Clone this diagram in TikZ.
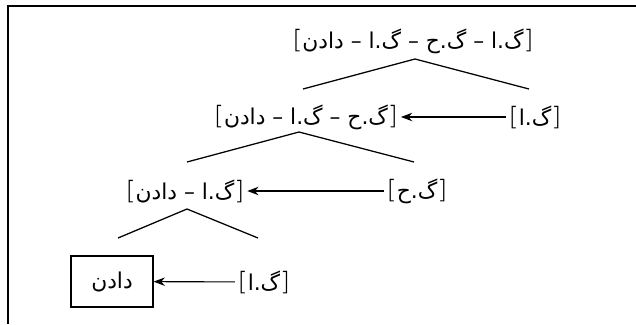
\documentclass[tikz,border=0pt]{standalone}
\usepackage{fontspec}
\usetikzlibrary{arrows.meta}
\TeXXeTstate=1
\newfontfamily\arabicfont[Script=Arabic]{DejaVu Sans}
\newfontfamily\bracketfont{DejaVu Sans ExtraLight}
\newcommand{\phr}[1]{{\bracketfont\fontsize{18}{18}\selectfont[}\beginR#1\endR{\bracketfont\fontsize{18}{18}\selectfont]}}
\tikzset{
  lbl/.style={font=\arabicfont\fontsize{15.5}{17}\selectfont, inner sep=2pt},
  headbox/.style={lbl, draw, line width=0.9pt, minimum width=2.05cm, minimum height=1.275cm},
  branch/.style={line width=0.9pt},
  move/.style={-{Stealth[length=8pt,width=6pt]}, line width=0.8pt}
}
\begin{document}
\begin{tikzpicture}[x=0.025cm, y=-0.025cm]
    \useasboundingbox (0,0) rectangle (636,324);

    % Frame (top and left only)
    \coordinate (F1) at (636,6);
    \coordinate (F2) at (8,6);
    \coordinate (F3) at (8,324);
    \draw[line width=1pt] (F1) -- (F2) -- (F3);

    % Labels of the four levels
    \node[lbl] (top) at (413,41) {\phr{گ.ا – گ.ح – گ.ا – دادن}};
    \node[lbl] (lvltwo) at (306,117) {\phr{گ.ح – گ.ا – دادن}};
    \node[lbl] (lvlthree) at (185,191) {\phr{گ.ا – دادن}};
    \node[headbox] (verb) at (112,281.5) {دادن};

    % Phrases that are added
    \node[lbl] (npone) at (535,117) {\phr{گ.ا}};
    \node[lbl] (pp) at (417,191) {\phr{گ.ح}};
    \node[lbl] (nptwo) at (264,282) {\phr{گ.ا}};

    % Branches of the tree
    \coordinate (A) at (415,59);
    \coordinate (AL) at (303,89);
    \coordinate (AR) at (529,89);
    \coordinate (B) at (299,132);
    \coordinate (BL) at (187,162);
    \coordinate (BR) at (414,162);
    \coordinate (C) at (187,209);
    \coordinate (CL) at (118,238);
    \coordinate (CR) at (258,238);
    \draw[branch] (AL) -- (A) -- (AR);
    \draw[branch] (BL) -- (B) -- (BR);
    \draw[branch] (CL) -- (C) -- (CR);

    % Arrows
    \draw[move] (npone) -- (lvltwo);
    \draw[move] (pp) -- (lvlthree);
    \draw[move] (nptwo) -- (verb);

\end{tikzpicture}
\end{document}
